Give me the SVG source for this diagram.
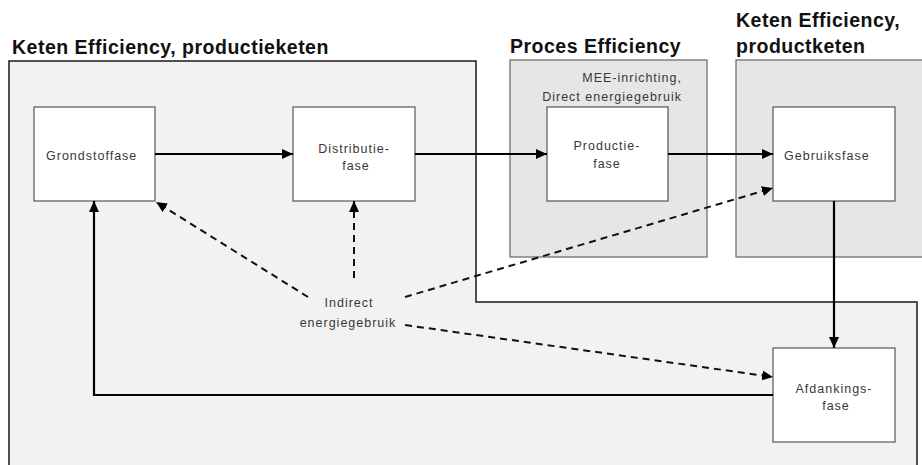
<svg xmlns="http://www.w3.org/2000/svg" width="922" height="465" viewBox="0 0 922 465">
  <style>
    .heading { font-family: "Liberation Sans", Arial, sans-serif; font-weight: bold; font-size: 19.5px; letter-spacing: 0.5px; fill: #111; }
    .label { font-family: "Liberation Sans", Arial, sans-serif; font-size: 12.5px; letter-spacing: 1px; fill: #383838; }
    .mid { text-anchor: middle; }
    .node { fill: #ffffff; stroke: #555; stroke-width: 1.2; }
    .zone { fill: #e6e6e6; stroke: #666; stroke-width: 1.2; }
    .flow { fill: none; stroke: #000; stroke-width: 2.2; }
    .dash { fill: none; stroke: #111; stroke-width: 2; stroke-dasharray: 7 5; }
  </style>
  <defs>
    <marker id="arrow" markerUnits="userSpaceOnUse" markerWidth="12" markerHeight="10" refX="11" refY="5" orient="auto">
      <path d="M0,0 L11,5 L0,10 Z" fill="#000"/>
    </marker>
  </defs>

  <rect width="922" height="465" fill="#ffffff"/>

  <!-- chain-efficiency area of the product chain -->
  <g id="zone-productieketen">
    <path d="M9,61 H476 V302 H917 V470 H9 Z" fill="#f2f2f2" stroke="#1a1a1a" stroke-width="1.5"/>
    <text class="heading" x="12" y="54">Keten Efficiency, productieketen</text>
  </g>

  <!-- process efficiency area -->
  <g id="zone-proces">
    <rect class="zone" x="510" y="60" width="197" height="197"/>
    <text class="heading" x="510" y="53">Proces Efficiency</text>
    <text class="label" x="682" y="82" text-anchor="end">MEE-inrichting,</text>
    <text class="label" x="682" y="101" text-anchor="end">Direct energiegebruik</text>
  </g>

  <!-- chain-efficiency area of the product -->
  <g id="zone-productketen">
    <rect class="zone" x="736" y="60" width="200" height="197"/>
    <text class="heading" x="736" y="27">Keten Efficiency,</text>
    <text class="heading" x="736" y="53">productketen</text>
  </g>

  <g id="node-grondstoffase">
    <rect class="node" x="34" y="107" width="121" height="94"/>
    <text class="label" x="46" y="160">Grondstoffase</text>
  </g>

  <g id="node-distributiefase">
    <rect class="node" x="293" y="107" width="122" height="94"/>
    <text class="label mid" x="354" y="153">Distributie-</text>
    <text class="label mid" x="356" y="170">fase</text>
  </g>

  <g id="node-productiefase">
    <rect class="node" x="547" y="107" width="121" height="94"/>
    <text class="label mid" x="607" y="150">Productie-</text>
    <text class="label mid" x="607" y="168">fase</text>
  </g>

  <g id="node-gebruiksfase">
    <rect class="node" x="773" y="107" width="122" height="94"/>
    <text class="label" x="784" y="160">Gebruiksfase</text>
  </g>

  <g id="node-afdankingsfase">
    <rect class="node" x="773" y="348" width="122" height="94"/>
    <text class="label mid" x="834" y="393">Afdankings-</text>
    <text class="label mid" x="836" y="410">fase</text>
  </g>

  <g id="node-indirect">
    <text class="label mid" x="349" y="307">Indirect</text>
    <text class="label mid" x="348" y="327">energiegebruik</text>
  </g>

  <g id="connectors">
    <path class="flow" d="M155,154 H293" marker-end="url(#arrow)"/>
    <path class="flow" d="M415,154 H547" marker-end="url(#arrow)"/>
    <path class="flow" d="M668,154 H773" marker-end="url(#arrow)"/>
    <path class="flow" d="M834,201 V348" marker-end="url(#arrow)"/>
    <path class="flow" d="M773,395 H94 V201" marker-end="url(#arrow)"/>

    <path class="dash" d="M308,297 L156,202" marker-end="url(#arrow)"/>
    <path class="dash" d="M354,278 V201" marker-end="url(#arrow)"/>
    <path class="dash" d="M405,297 L773,188" marker-end="url(#arrow)"/>
    <path class="dash" d="M405,325 L773,377" marker-end="url(#arrow)"/>
  </g>
</svg>
